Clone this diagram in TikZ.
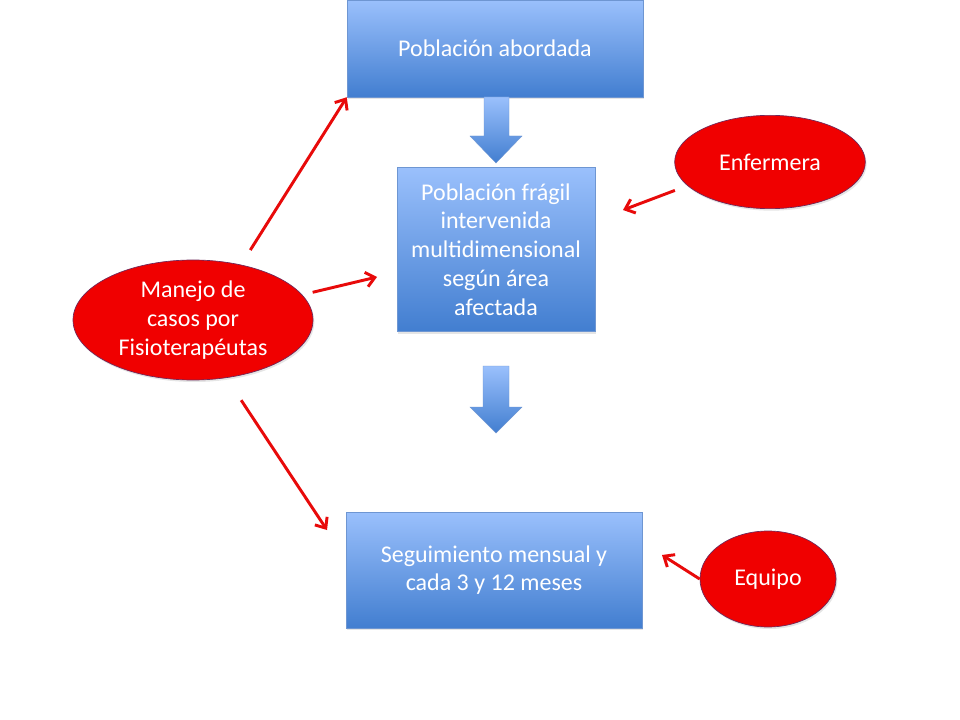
\documentclass[tikz,border=0pt]{standalone}
\usepackage{fontspec}
\setmainfont{Carlito}
\usetikzlibrary{shapes.geometric,arrows.meta,shadows}

\definecolor{boxtop}{RGB}{154,192,252}
\definecolor{boxbot}{RGB}{66,126,208}
\definecolor{boxedge}{RGB}{110,150,210}
\definecolor{ellred}{RGB}{240,0,0}
\definecolor{elledge}{RGB}{110,40,90}
\definecolor{arrred}{RGB}{232,10,10}

\tikzset{
	bluebox/.style={rectangle, draw=boxedge, line width=0.4pt, top color=boxtop, bottom color=boxbot,
		text=white, align=center, inner sep=0pt, font=\fontsize{18}{21.6}\selectfont,
		drop shadow={opacity=0.2, shadow xshift=1pt, shadow yshift=-1.5pt}},
	redell/.style={ellipse, draw=elledge, line width=0.5pt, fill=ellred, text=white, align=center,
		inner sep=0pt, font=\fontsize{18}{21.6}\selectfont,
		drop shadow={opacity=0.2, shadow xshift=1pt, shadow yshift=-1.5pt}},
	redarrow/.style={draw=arrred, line width=2.2pt, -{Straight Barb[length=6.5pt,width=11pt,line width=2.2pt]}},
	blockarrow/.style={draw=boxedge, line width=0.3pt, top color=boxtop, bottom color=boxbot}
}

\begin{document}
\begin{tikzpicture}[x=0.75pt, y=-0.75pt]
		%%%%% START %%%%%
		
		\useasboundingbox (0, 0) rectangle (960, 720);
		\fill[white] (0, 0) rectangle (960, 720);
		
		% boxes
		\node[bluebox, minimum width=222pt, minimum height=72.75pt] (top) at (495, 48.5) {Población abordada};
		\node[bluebox, minimum width=148.5pt, minimum height=123pt] (mid) at (496, 249.5) {Población frágil\\intervenida\\multidimensional\\según área\\afectada};
		\node[bluebox, minimum width=222pt, minimum height=87pt] (bottom) at (494, 570) {Seguimiento mensual y\\cada 3 y 12 meses};
		
		% block arrows
		\draw[blockarrow] (484, 97) -- (509, 97) -- (509, 136) -- (522, 136) -- (496, 163) -- (470, 136) -- (484, 136) -- cycle;
		\draw[blockarrow] (483, 366) -- (509, 366) -- (509, 407) -- (522, 407) -- (496, 433) -- (470, 407) -- (483, 407) -- cycle;
		
		% ellipses
		\node[redell, minimum width=180pt, minimum height=90pt] (manejo) at (193, 320) {Manejo de\\casos por\\Fisioterapéutas};
		\node[redell, minimum width=143pt, minimum height=70pt] (enfermera) at (770, 162) {Enfermera};
		\node[redell, minimum width=102pt, minimum height=72pt] (equipo) at (768, 579) {Equipo};
		
		% red arrows
		\coordinate (tipmid) at (377, 277);
		\coordinate (tipbottom) at (327, 530);
		\coordinate (tipenf) at (623, 210);
		\coordinate (tipequipo) at (662, 555);
		
		\draw[redarrow, shorten <=13pt] (manejo.49) -- (top.south west);
		\draw[redarrow, shorten <=8pt] (manejo.13) -- (tipmid);
		\draw[redarrow, shorten <=20pt] (manejo.-60) -- (tipbottom);
		\draw[redarrow, shorten <=10pt] (enfermera.196) -- (tipenf);
		\draw[redarrow] (equipo.west) -- (tipequipo);
		
		%%%%% END %%%%%
	\end{tikzpicture}
\end{document}
